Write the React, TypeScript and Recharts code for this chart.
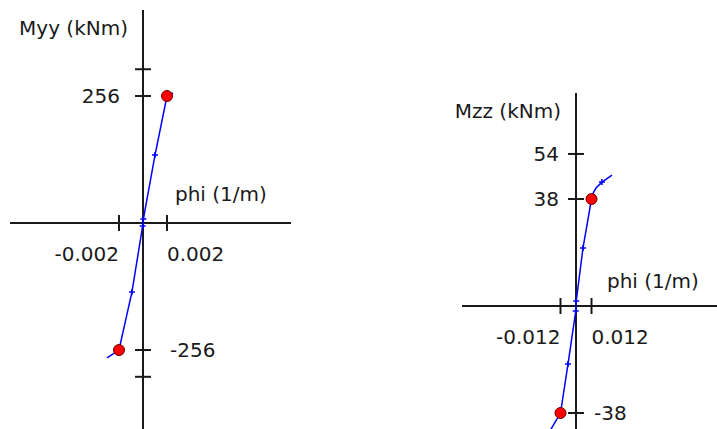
import {
  ReferenceDot,
  ReferenceLine,
  Scatter,
  ScatterChart,
  XAxis,
  YAxis,
} from 'recharts';

const FONT = '"DejaVu Sans", Verdana, sans-serif';
const INK = '#1a1a1a';
const CURVE = '#0000ff';

type Mark = '' | 'dot' | 'cross';

// Myy - phi diagram
const myyPhi = [-0.003, -0.002, -0.00092, -0.00003, 0.00003, 0.001, 0.002, 0.0025];
const myyM = [-272, -256, -139, -6, 8, 137, 256, 262];
const myyMarks: Mark[] = ['', 'dot', 'cross', 'cross', 'cross', 'cross', 'dot', ''];
const myyXTicks = [-0.002, 0.002];
const myyXLabels = ['-0.002', '0.002'];
const myyYTicks = [310, 256, -256, -310];
const myyYLabels = ['', '256', '-256', ''];

// Mzz - phi diagram
const mzzPhi = [-0.021, -0.012, -0.0062, -0.0002, 0.0002, 0.0054, 0.012, 0.0135, 0.0155, 0.0201, 0.0279];
const mzzM = [-45, -38, -20.6, -1.8, 1.8, 20.6, 38, 40.3, 41.9, 44.0, 46.5];
const mzzMarks: Mark[] = ['', 'dot', 'cross', 'cross', 'cross', 'cross', 'dot', '', '', 'cross', ''];
const mzzXTicks = [-0.012, 0.012];
const mzzXLabels = ['-0.012', '0.012'];
const mzzYTicks = [54, 38, -38];
const mzzYLabels = ['54', '38', '-38'];

interface DiagramProps {
  phi: number[];
  m: number[];
  marks: Mark[];
  xTicks: number[];
  xLabels: string[];
  yTicks: number[];
  yLabels: string[];
  xDomain: [number, number];
  yDomain: [number, number];
  xTitle: string;
  yTitle: string;
  width: number;
  height: number;
  margin: { top: number; right: number; bottom: number; left: number };
  yLabelGap: [number, number];
  xTitleOffset: [number, number];
}

const textProps = {
  fontFamily: FONT,
  fontSize: 20,
  fill: INK,
  dominantBaseline: 'central' as const,
};

function renderMark(props: any) {
  const { cx, cy, payload } = props;
  if (payload?.mark === 'dot') {
    return <circle cx={cx} cy={cy} r={5.5} fill="#ff0000" stroke="#6a0000" strokeWidth={1} />;
  }
  if (payload?.mark === 'cross') {
    return (
      <path
        d={`M${cx - 3},${cy}H${cx + 3}M${cx},${cy - 3}V${cy + 3}`}
        stroke={CURVE}
        strokeWidth={1.5}
      />
    );
  }
  return <g />;
}

function Diagram(p: DiagramProps) {
  const data = p.phi.map((phi, i) => ({ phi, m: p.m[i], mark: p.marks[i] }));
  return (
    <ScatterChart width={p.width} height={p.height} margin={p.margin}>
      <XAxis type="number" dataKey="phi" domain={p.xDomain} allowDataOverflow hide />
      <YAxis type="number" dataKey="m" domain={p.yDomain} allowDataOverflow hide />
      <ReferenceLine x={0} stroke={INK} strokeWidth={2} />
      <ReferenceLine y={0} stroke={INK} strokeWidth={2} />
      {p.xTicks.map((v, i) => (
        <ReferenceDot
          key={`xt${i}`}
          x={v}
          y={0}
          shape={({ cx, cy }: any) => (
            <g>
              <line x1={cx} y1={cy - 8} x2={cx} y2={cy + 8} stroke={INK} strokeWidth={2} />
              <text {...textProps} x={cx} y={cy + 31} textAnchor={v < 0 ? 'end' : 'start'}>
                {p.xLabels[i]}
              </text>
            </g>
          )}
        />
      ))}
      {p.yTicks.map((v, i) => (
        <ReferenceDot
          key={`yt${i}`}
          x={0}
          y={v}
          shape={({ cx, cy }: any) => (
            <g>
              <line x1={cx - 8} y1={cy} x2={cx + 8} y2={cy} stroke={INK} strokeWidth={2} />
              <text
                {...textProps}
                x={v > 0 ? cx - p.yLabelGap[0] : cx + p.yLabelGap[1]}
                y={cy}
                textAnchor={v > 0 ? 'end' : 'start'}
              >
                {p.yLabels[i]}
              </text>
            </g>
          )}
        />
      ))}
      <ReferenceDot
        x={0}
        y={p.yDomain[1]}
        shape={({ cx, cy }: any) => (
          <text {...textProps} x={cx - 15} y={cy + 18} textAnchor="end">
            {p.yTitle}
          </text>
        )}
      />
      <ReferenceDot
        x={0}
        y={0}
        shape={({ cx, cy }: any) => (
          <text {...textProps} x={cx + p.xTitleOffset[0]} y={cy + p.xTitleOffset[1]} textAnchor="start">
            {p.xTitle}
          </text>
        )}
      />
      <Scatter
        data={data}
        dataKey="m"
        line={{ stroke: CURVE, strokeWidth: 1.5 }}
        lineJointType="linear"
        shape={renderMark}
        isAnimationActive={false}
      />
    </ScatterChart>
  );
}

export default function App() {
  return (
    <div
      style={{
        position: 'absolute',
        left: 0,
        top: 0,
        width: 717,
        height: 429,
        background: '#ffffff',
        overflow: 'hidden',
      }}
    >
      <div style={{ position: 'absolute', left: 0, top: 0 }}>
        <Diagram
          phi={myyPhi}
          m={myyM}
          marks={myyMarks}
          xTicks={myyXTicks}
          xLabels={myyXLabels}
          yTicks={myyYTicks}
          yLabels={myyYLabels}
          xDomain={[-0.011083, 0.012333]}
          yDomain={[-415.2, 429.4]}
          xTitle="phi (1/m)"
          yTitle="Myy (kNm)"
          width={300}
          height={429}
          margin={{ top: 10, right: 9, bottom: 0, left: 10 }}
          yLabelGap={[23, 27]}
          xTitleOffset={[32, -29]}
        />
      </div>
      <div style={{ position: 'absolute', left: 440, top: 0 }}>
        <Diagram
          phi={mzzPhi}
          m={mzzM}
          marks={mzzMarks}
          xTicks={mzzXTicks}
          xLabels={mzzXLabels}
          yTicks={mzzYTicks}
          yLabels={mzzYLabels}
          xDomain={[-0.08826, 0.10916]}
          yDomain={[-43.68, 75.65]}
          xTitle="phi (1/m)"
          yTitle="Mzz (kNm)"
          width={277}
          height={429}
          margin={{ top: 93, right: 0, bottom: 0, left: 22 }}
          yLabelGap={[17, 18]}
          xTitleOffset={[31, -25]}
        />
      </div>
    </div>
  );
}
